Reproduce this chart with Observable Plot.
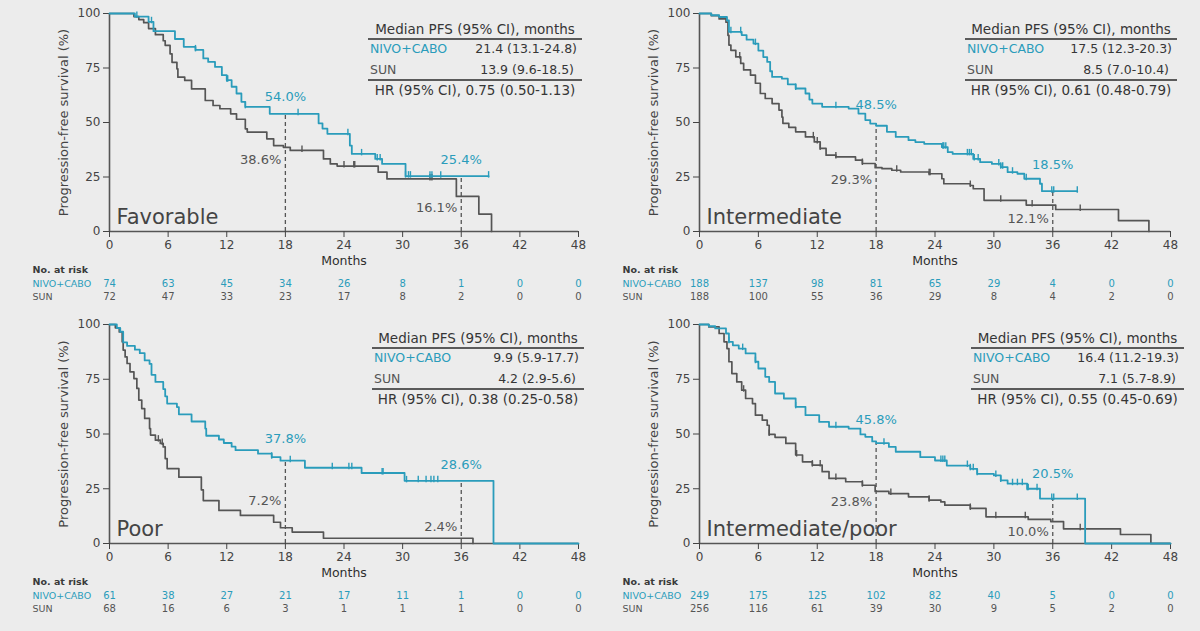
<!DOCTYPE html>
<html><head><meta charset="utf-8">
<script src="https://cdn.jsdelivr.net/npm/d3@7"></script>
<script src="https://cdn.jsdelivr.net/npm/@observablehq/plot@0.6"></script>
<style>
html,body{margin:0;padding:0;background:#ececec;}
#root{position:relative;width:1200px;height:631px;overflow:hidden;background:#ececec;font-family:"DejaVu Sans",sans-serif;}
.panel{position:absolute;}
.stats{position:absolute;color:#363636;}
.stats div{position:absolute;height:20px;line-height:20px;white-space:nowrap;}
.stats .rule{height:0;border-top:2px solid #5a5a5a;left:0;right:0;}
</style></head><body><div id="root"></div>
<script>
// ---------------- data ----------------
const groups = ["Favorable", "Intermediate", "Poor", "Intermediate/poor"];
const riskMonths = [0, 6, 12, 18, 24, 30, 36, 42, 48];
const yTicks = [0, 25, 50, 75, 100];
const armNames = ["NIVO+CABO", "SUN"];

// Number at risk
const riskNivoFav = [74, 63, 45, 34, 26, 8, 1, 0, 0];
const riskSunFav = [72, 47, 33, 23, 17, 8, 2, 0, 0];
const riskNivoInt = [188, 137, 98, 81, 65, 29, 4, 0, 0];
const riskSunInt = [188, 100, 55, 36, 29, 8, 4, 2, 0];
const riskNivoPoor = [61, 38, 27, 21, 17, 11, 1, 0, 0];
const riskSunPoor = [68, 16, 6, 3, 1, 1, 1, 0, 0];
const riskNivoIP = [249, 175, 125, 102, 82, 40, 5, 0, 0];
const riskSunIP = [256, 116, 61, 39, 30, 9, 5, 2, 0];

// Median PFS / HR text
const medianNivo = ["21.4 (13.1-24.8)", "17.5 (12.3-20.3)", "9.9 (5.9-17.7)", "16.4 (11.2-19.3)"];
const medianSun = ["13.9 (9.6-18.5)", "8.5 (7.0-10.4)", "4.2 (2.9-5.6)", "7.1 (5.7-8.9)"];
const hazardRatio = ["0.75 (0.50-1.13)", "0.61 (0.48-0.79)", "0.38 (0.25-0.58)", "0.55 (0.45-0.69)"];

// Landmark PFS (%) at 18 and 36 months: [nivo18, sun18, nivo36, sun36]
const landmarkFav = [54.0, 38.6, 25.4, 16.1];
const landmarkInt = [48.5, 29.3, 18.5, 12.1];
const landmarkPoor = [37.8, 7.2, 28.6, 2.4];
const landmarkIP = [45.8, 23.8, 20.5, 10.0];

// Kaplan-Meier curves: [month, PFS %]
const favNivo = [[0,100],[2.6,98.6],[4.0,96.2],[4.5,91.9],[6.7,88.3],[7.6,84.7],[8.8,83.3],[9.6,79.4],[10.1,77.8],[10.8,75.5],[11.5,71.7],[12.0,69.4],[12.5,66.4],[13.0,63.3],[13.5,59.5],[13.9,57.2],[16.4,54.0],[21.4,49.6],[21.8,47.2],[22.3,44.8],[24.6,39.4],[24.8,35.6],[27.2,33.3],[27.9,31.0],[30.3,25.4],[38.8,25.4]];
const favSun = [[0,100],[2.5,98.6],[3.0,97.2],[3.5,95.8],[4.0,93.1],[4.7,90.3],[5.5,87.5],[5.7,85.4],[6.2,81.5],[6.4,77.6],[6.9,74.6],[7.0,70.8],[7.7,69.3],[8.4,65.4],[9.8,60.1],[10.6,57.8],[11.3,56.3],[12.4,54.0],[13.0,51.5],[13.9,47.1],[14.1,45.6],[16.1,42.5],[16.8,39.4],[17.8,38.6],[18.5,37.2],[21.9,33.3],[22.6,31.0],[23.3,30.0],[27.5,27.2],[28.4,24.1],[35.5,16.1],[37.8,8.0],[39.1,0]];
const intNivo = [[0,100],[1.2,99.2],[2.0,98.4],[2.8,96.8],[3.0,91.6],[4.3,90.1],[4.8,88.0],[5.5,86.2],[6.0,83.0],[6.5,80.0],[6.9,77.8],[7.2,73.5],[7.4,70.9],[8.4,70.1],[9.0,67.5],[9.8,65.6],[10.8,63.3],[11.2,60.5],[11.5,58.7],[12.5,57.2],[15.2,56.4],[16.2,54.1],[16.9,51.1],[17.4,49.5],[18.0,48.5],[19.1,45.7],[20.0,43.4],[21.3,41.9],[22.0,41.0],[22.9,40.2],[24.7,38.7],[25.3,36.4],[25.8,35.6],[27.9,33.3],[28.6,31.8],[29.8,31.0],[30.7,29.5],[31.4,27.2],[32.4,26.5],[33.1,24.2],[34.7,21.9],[34.9,18.5],[38.5,18.5]];
const intSun = [[0,100],[1.2,99.0],[2.0,97.5],[2.7,96.0],[2.9,90.0],[3.0,85.5],[3.2,83.1],[3.7,80.1],[4.2,77.1],[4.5,74.1],[5.2,71.7],[5.7,68.0],[6.2,63.3],[6.7,61.0],[7.4,58.7],[8.1,55.7],[8.4,52.5],[8.5,49.6],[9.1,47.8],[9.8,45.7],[10.8,43.4],[11.7,41.1],[12.3,38.1],[12.9,35.0],[13.9,34.2],[15.9,32.7],[16.6,31.2],[17.9,29.3],[18.6,28.8],[19.6,28.1],[20.5,27.3],[23.4,26.5],[24.7,24.2],[24.9,21.9],[27.6,21.1],[27.9,19.6],[29.0,14.3],[33.3,12.1],[36.3,10.1],[42.7,5.0],[45.8,0]];
const poorNivo = [[0,100],[0.75,98.4],[1.1,96.7],[1.4,91.8],[1.8,90.2],[2.6,88.5],[3.1,86.9],[3.6,83.6],[4.1,82.0],[4.3,77.0],[4.7,73.8],[5.5,70.5],[5.7,67.2],[5.9,63.9],[6.9,62.3],[7.1,59.0],[8.4,55.7],[9.8,52.5],[9.9,49.2],[11.2,47.5],[11.7,45.9],[12.5,44.2],[12.9,42.6],[15.2,41.0],[16.6,39.4],[17.5,37.8],[20.0,34.6],[25.8,32.2],[30.2,28.6],[39.3,0],[48,0]];
const poorSun = [[0,100],[0.6,98.5],[1.0,96.6],[1.3,92.1],[1.4,88.3],[1.6,85.2],[1.8,82.2],[2.1,78.4],[2.5,75.3],[2.8,70.8],[3.0,65.5],[3.3,61.6],[3.6,57.1],[4.1,52.5],[4.2,49.5],[4.7,47.2],[5.2,45.7],[5.5,44.1],[5.7,38.8],[5.9,34.2],[7.1,30.3],[9.4,24.5],[9.6,19.6],[11.2,15.1],[13.4,12.8],[16.8,9.7],[17.5,7.2],[18.7,5.2],[21.9,2.4],[37.2,0]];
const ipNivo = [[0,100],[0.95,99.2],[1.6,98.2],[2.7,95.9],[3.0,92.1],[3.4,90.5],[4.0,89.0],[4.7,86.8],[5.7,83.0],[6.0,79.9],[6.7,76.1],[7.1,73.8],[7.7,68.5],[8.6,66.2],[9.8,62.4],[10.8,58.6],[12.2,55.5],[13.2,53.3],[15.2,52.5],[16.4,49.8],[16.9,48.7],[17.6,46.6],[18.0,45.8],[19.3,44.1],[20.0,41.9],[22.5,39.4],[24.0,37.9],[25.2,35.6],[27.6,34.1],[28.3,31.8],[30.0,31.1],[30.7,28.8],[31.4,27.3],[33.4,25.0],[34.7,20.5],[39.3,0],[48,0]];
const ipSun = [[0,100],[0.95,98.9],[2.0,95.9],[2.5,92.1],[2.8,89.0],[3.0,83.0],[3.3,77.6],[3.8,73.8],[4.3,70.0],[4.7,66.2],[5.4,63.9],[5.7,58.6],[6.4,56.3],[6.9,54.0],[7.1,49.8],[7.7,48.5],[8.8,45.7],[9.8,40.4],[10.5,37.3],[11.5,35.8],[12.5,32.8],[13.2,29.7],[14.9,28.2],[16.6,26.6],[17.9,23.8],[19.3,22.8],[21.3,21.3],[23.4,19.8],[24.6,19.0],[25.0,17.5],[27.6,16.0],[29.2,12.2],[33.5,11.0],[35.8,10.0],[37.1,6.7],[42.9,4.1],[46.0,0],[48,0]];

// Censoring times (months)
const favNivoCens = [2.8, 4.3, 8.8, 12.0, 12.1, 13.9, 19.3, 24.4, 25.8, 27.4, 27.7, 30.3, 30.6, 30.8, 32.8, 33.0, 33.9, 38.8];
const favSunCens = [19.7, 24.0, 25.0, 25.1, 32.8, 33.0];
const intNivoCens = [3.2, 4.2, 5.7, 9.8, 13.9, 24.8, 24.9, 25.1, 27.3, 27.5, 27.7, 28.0, 28.4, 30.5, 30.7, 30.9, 31.9, 33.3, 35.9, 36.1, 38.5];
const intSunCens = [4.1, 11.6, 12.0, 12.3, 13.9, 16.6, 20.1, 23.4, 23.5, 27.6, 30.7, 33.9, 38.8];
const poorNivoCens = [16.6, 18.5, 22.8, 24.5, 24.8, 27.9, 28.0, 30.4, 31.6, 32.4, 32.9, 33.2, 33.6];
const poorSunCens = [5.0, 5.4];
const ipNivoCens = [3.0, 4.4, 5.7, 9.8, 13.9, 18.8, 24.6, 24.8, 25.0, 27.3, 27.6, 27.9, 28.3, 30.2, 30.7, 31.9, 32.4, 32.9, 33.4, 33.5, 34.4, 35.9, 36.1, 38.5];
const ipSunCens = [4.5, 7.1, 9.9, 11.5, 12.3, 13.9, 16.6, 19.5, 23.4, 27.6, 30.2, 33.2, 38.8];

// ---------------- styles ----------------
const TEAL = "#2a9cbb";
const GRAY = "#555555";
const FONT = "DejaVu Sans";

function kmAt(curve, t) {
  let v = curve[0][1];
  for (const [m, s] of curve) { if (m <= t) v = s; else break; }
  return v;
}
const censorSymbol = {
  draw(ctx, size) { const h = Math.sqrt(size / Math.PI); ctx.moveTo(0, -h); ctx.lineTo(0, h * 0.3); }
};

function panel(cfg) {
  const {group, nivo, sun, nivoC, sunC, riskN, riskS, lm, off, height, mb, mr} = cfg;
  const cens = (curve, ts) => ts.map(t => ({t, s: kmAt(curve, t)}));
  const marks = [
    Plot.ruleX([0], {stroke: "#555", strokeWidth: 1.6}),
    Plot.ruleY([0], {stroke: "#555", strokeWidth: 1.6}),
    Plot.axisX({ticks: riskMonths, tickSize: 6, tickPadding: 3, fontSize: 12, label: null, tickFormat: d => String(d)}),
    Plot.axisY({ticks: yTicks, tickSize: 6, tickPadding: 3, fontSize: 12, label: null}),
    Plot.text(["Progression-free survival (%)"], {frameAnchor: "left", textAnchor: "middle", rotate: -90, dx: -46, fontSize: 13, fill: "#444"}),
    Plot.text(["Months"], {frameAnchor: "bottom", dy: 33, fontSize: 12.5, fill: "#2f2f2f"}),
    Plot.ruleX([{m: 18, v: lm[0]}, {m: 36, v: lm[2]}], {x: "m", y1: () => 0, y2: "v", stroke: "#555", strokeWidth: 1.3, strokeDasharray: "4,3"}),
    Plot.line(sun, {x: d => d[0], y: d => d[1], curve: "step-after", stroke: GRAY, strokeWidth: 1.7}),
    Plot.dot(cens(sun, sunC), {x: "t", y: "s", symbol: censorSymbol, r: 5, stroke: GRAY, fill: "none", strokeWidth: 1.4}),
    Plot.line(nivo, {x: d => d[0], y: d => d[1], curve: "step-after", stroke: TEAL, strokeWidth: 1.8}),
    Plot.dot(cens(nivo, nivoC), {x: "t", y: "s", symbol: censorSymbol, r: 5, stroke: TEAL, fill: "none", strokeWidth: 1.4}),
    Plot.text([group], {frameAnchor: "bottom-left", dx: 7, dy: -8, textAnchor: "start", lineAnchor: "bottom", fontSize: 21, fill: "#444"}),
    // landmark labels
    Plot.text([{m: 18, v: lm[0]}], {x: "m", y: "v", text: d => d.v.toFixed(1) + "%", dy: off[0], fill: TEAL, fontSize: 13}),
    Plot.text([{m: 18, v: lm[1]}], {x: "m", y: "v", text: d => d.v.toFixed(1) + "%", dx: -4, dy: off[1], textAnchor: "end", fill: "#555", fontSize: 13}),
    Plot.text([{m: 36, v: lm[2]}], {x: "m", y: "v", text: d => d.v.toFixed(1) + "%", dy: off[2], fill: TEAL, fontSize: 13}),
    Plot.text([{m: 36, v: lm[3]}], {x: "m", y: "v", text: d => d.v.toFixed(1) + "%", dx: -4, dy: off[3], textAnchor: "end", fill: "#555", fontSize: 13}),
    // number at risk
    Plot.text(["No. at risk"], {frameAnchor: "bottom-left", dx: -77, dy: 41, textAnchor: "start", fontSize: 9.5, fontWeight: "bold", fill: "#3a3a3a"}),
    Plot.text([armNames[0]], {frameAnchor: "bottom-left", dx: -77, dy: 55, textAnchor: "start", fontSize: 9.5, fill: TEAL}),
    Plot.text([armNames[1]], {frameAnchor: "bottom-left", dx: -77, dy: 68.5, textAnchor: "start", fontSize: 9.5, fill: "#555"}),
    Plot.text(riskMonths, {x: d => d, text: (d, i) => String(riskN[i]), frameAnchor: "bottom", dy: 55, fontSize: 10, fill: TEAL}),
    Plot.text(riskMonths, {x: d => d, text: (d, i) => String(riskS[i]), frameAnchor: "bottom", dy: 68.5, fontSize: 10, fill: "#555"})
  ];
  return Plot.plot({
    width: 600, height, marginLeft: 109, marginRight: mr, marginTop: 13, marginBottom: mb,
    x: {domain: [0, 48]}, y: {domain: [0, 100]},
    style: {background: "transparent", fontFamily: FONT, color: "#444", overflow: "visible"},
    marks
  });
}

const root = document.getElementById("root");
function place(node, left, top) {
  const d = document.createElement("div");
  d.className = "panel"; d.style.left = left + "px"; d.style.top = top + "px";
  d.appendChild(node); root.appendChild(d);
}
function statsTable(left, top, width, nivoTxt, sunTxt, hrTxt) {
  const t = document.createElement("div");
  t.className = "stats";
  t.style.left = left + "px"; t.style.top = top + "px"; t.style.width = width + "px"; t.style.height = "75px";
  const item = (txt, y, css) => {
    const e = document.createElement("div");
    e.textContent = txt; e.style.top = (y - 10) + "px";
    Object.assign(e.style, css); t.appendChild(e);
  };
  const rule = y => { const e = document.createElement("div"); e.className = "rule"; e.style.top = (y - 1) + "px"; t.appendChild(e); };
  item("Median PFS (95% CI), months", 0, {left: "0", right: "0", textAlign: "center", fontSize: "13.5px"});
  rule(10);
  item(armNames[0], 20, {left: "2px", fontSize: "12.5px", color: TEAL});
  item(nivoTxt, 20, {right: "5px", fontSize: "12.5px"});
  item(armNames[1], 40.5, {left: "2px", fontSize: "12.5px", color: "#555"});
  item(sunTxt, 40.5, {right: "8px", fontSize: "12.5px"});
  rule(50.7);
  item("HR (95% CI), " + hrTxt, 61, {left: "0", right: "0", textAlign: "center", fontSize: "13.5px"});
  root.appendChild(t);
}

place(panel({group: groups[0], nivo: favNivo, sun: favSun, nivoC: favNivoCens, sunC: favSunCens, riskN: riskNivoFav, riskS: riskSunFav, lm: landmarkFav, off: [-17, 12, -16, 11], height: 315, mb: 84, mr: 22}), 0, 0);
place(panel({group: groups[1], nivo: intNivo, sun: intSun, nivoC: intNivoCens, sunC: intSunCens, riskN: riskNivoInt, riskS: riskSunInt, lm: landmarkInt, off: [-21, 12.5, -26, 14], height: 315, mb: 84, mr: 20}), 590, 0);
place(panel({group: groups[2], nivo: poorNivo, sun: poorSun, nivoC: poorNivoCens, sunC: poorSunCens, riskN: riskNivoPoor, riskS: riskSunPoor, lm: landmarkPoor, off: [-21.5, -26.5, -16, -11], height: 320, mb: 88, mr: 22}), 0, 311);
place(panel({group: groups[3], nivo: ipNivo, sun: ipSun, nivoC: ipNivoCens, sunC: ipSunCens, riskN: riskNivoIP, riskS: riskSunIP, lm: landmarkIP, off: [-23, 10.5, -25, 10.5], height: 320, mb: 88, mr: 20}), 590, 311);

statsTable(368, 29.3, 214, medianNivo[0], medianSun[0], hazardRatio[0]);
statsTable(965, 29.3, 212, medianNivo[1], medianSun[1], hazardRatio[1]);
statsTable(372, 338.3, 212, medianNivo[2], medianSun[2], hazardRatio[2]);
statsTable(971, 338.3, 213, medianNivo[3], medianSun[3], hazardRatio[3]);
</script></body></html>
